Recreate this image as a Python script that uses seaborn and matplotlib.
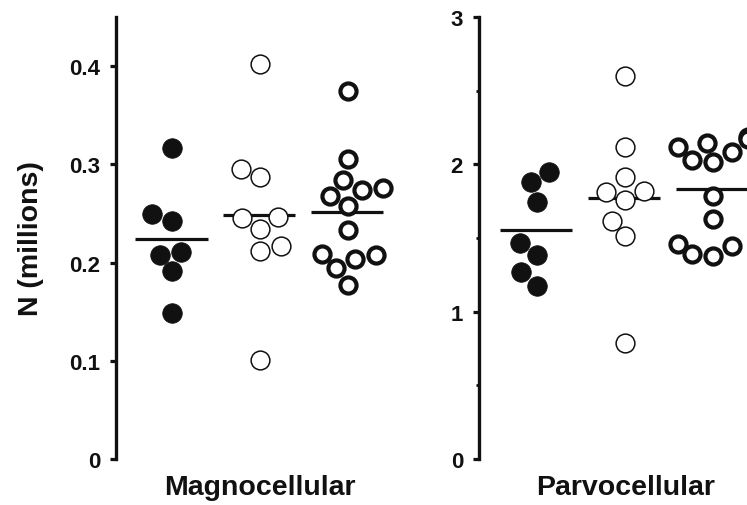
import numpy as np
import pandas as pd
import matplotlib
matplotlib.use("Agg")
import matplotlib.pyplot as plt
import seaborn as sns

# Cell counts (millions) for three groups in each LGN division
groups = ["group 1", "group 2", "group 3"]

magno_g1 = [0.317, 0.249, 0.242, 0.211, 0.208, 0.191, 0.149]
magno_g2 = [0.402, 0.295, 0.287, 0.246, 0.245, 0.234, 0.217, 0.212, 0.101]
magno_g3 = [0.375, 0.305, 0.284, 0.276, 0.274, 0.268, 0.258,
            0.233, 0.209, 0.208, 0.204, 0.194, 0.177]

parvo_g1 = [1.946, 1.878, 1.747, 1.466, 1.385, 1.267, 1.176]
parvo_g2 = [2.597, 2.116, 1.916, 1.821, 1.815, 1.760, 1.618, 1.512, 0.790]
parvo_g3 = [2.183, 2.172, 2.145, 2.116, 2.082, 2.032, 2.014,
            1.783, 1.629, 1.459, 1.448, 1.391, 1.380]

magno_ticks = [0, 0.1, 0.2, 0.3, 0.4]
magno_tick_labels = ["0", "0.1", "0.2", "0.3", "0.4"]
parvo_ticks = [0, 1, 2, 3]
parvo_tick_labels = ["0", "1", "2", "3"]
parvo_minor_ticks = [0.5, 1.5, 2.5]

panel_titles = ["Magnocellular", "Parvocellular"]
y_label = "N (millions)"

sns.set_style("ticks")
plt.rcParams["font.family"] = ["Liberation Sans", "DejaVu Sans"]
plt.rcParams["font.weight"] = "bold"

INK = "#111111"
# marker look per group: filled, thin open, thick open (outer diameter ~14.6 pt)
marker_looks = [
    dict(fc=INK, lw=0.5),
    dict(fc="white", lw=1.1),
    dict(fc="white", lw=3.0),
]
OUTER = 14.6

fig = plt.figure(figsize=(7.47, 5.06), dpi=100)
ax_m = fig.add_axes([116 / 747, 46 / 506, 288.6 / 747, 442 / 506])
ax_p = fig.add_axes([479 / 747, 46 / 506, 292.2 / 747, 442 / 506])


def draw_panel(ax, values, ylim, xlim, ticks, tick_labels, title):
    df = pd.DataFrame({
        "group": np.repeat(groups, [len(v) for v in values]),
        "value": np.concatenate(values),
    })
    sns.swarmplot(data=df, x="group", y="value", order=groups, size=13,
                  color=INK, ax=ax, zorder=3)
    for coll, look in zip(ax.collections, marker_looks):
        d = OUTER - look["lw"]
        coll.set_sizes([d ** 2])
        coll.set_facecolor(look["fc"])
        coll.set_edgecolor(INK)
        coll.set_linewidth(look["lw"])

    means = df.groupby("group", sort=False)["value"].mean().reindex(groups)
    pos = np.arange(len(groups))
    ax.hlines(means.values, pos - 0.42, pos + 0.4, color=INK, lw=2.3, zorder=2)

    ax.set_xlim(*xlim)
    ax.set_ylim(*ylim)
    ax.set_xticks([])
    ax.set_yticks(ticks)
    ax.set_yticklabels(tick_labels)
    ax.tick_params(axis="y", which="major", length=4.5, width=2.3, pad=7,
                   labelsize=16, colors=INK)
    ax.tick_params(axis="y", which="minor", length=2.5, width=2.0, colors=INK)
    ax.set_xlabel(title, fontsize=20.5, fontweight="bold", labelpad=11, color=INK)
    ax.set_ylabel("")
    sns.despine(ax=ax, bottom=True)
    ax.spines["left"].set_linewidth(2.4)
    ax.spines["left"].set_color(INK)
    for t in ax.get_yticklabels():
        t.set_fontweight("bold")


draw_panel(ax_m, [magno_g1, magno_g2, magno_g3], (0, 0.45), (-0.64, 2.64),
           magno_ticks, magno_tick_labels, panel_titles[0])
draw_panel(ax_p, [parvo_g1, parvo_g2, parvo_g3], (0, 3.0), (-0.66, 2.66),
           parvo_ticks, parvo_tick_labels, panel_titles[1])
ax_p.set_yticks(parvo_minor_ticks, minor=True)

ax_m.set_ylabel(y_label, fontsize=20.5, fontweight="bold", color=INK)
ax_m.yaxis.set_label_coords(-0.25, 0.5)

fig.savefig("out.png", dpi=100)
